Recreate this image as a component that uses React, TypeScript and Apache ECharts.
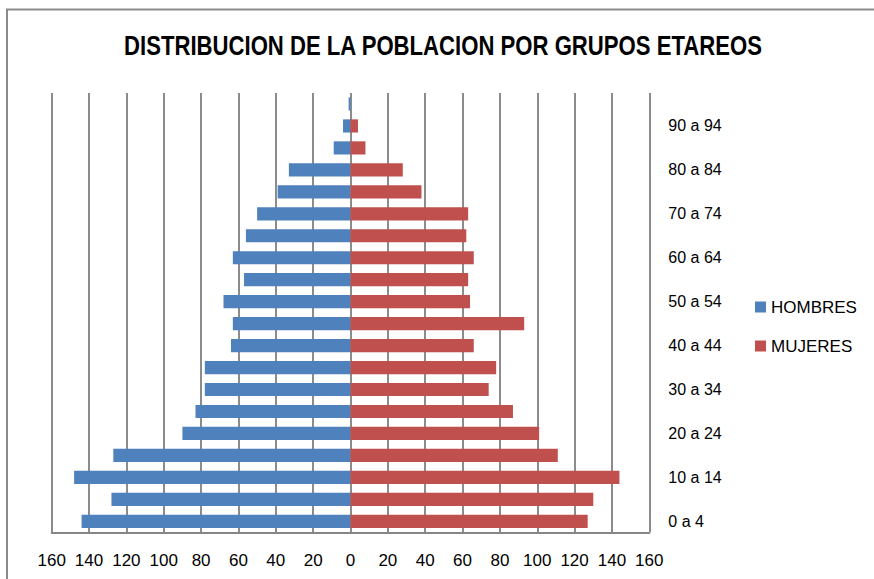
import React, { useEffect, useRef } from "react";
import * as echarts from "echarts";

const categories = [
  "0 a 4", "5 a 9", "10 a 14", "15 a 19", "20 a 24", "25 a 29", "30 a 34",
  "35 a 39", "40 a 44", "45 a 49", "50 a 54", "55 a 59", "60 a 64", "65 a 69",
  "70 a 74", "75 a 79", "80 a 84", "85 a 89", "90 a 94", "95 a 99",
];
const hombres = [144, 128, 148, 127, 90, 83, 78, 78, 64, 63, 68, 57, 63, 56, 50, 39, 33, 9, 4, 1];
const mujeres = [127, 130, 144, 111, 101, 87, 74, 78, 66, 93, 64, 63, 66, 62, 63, 38, 28, 8, 4, 0];
const titleText = "DISTRIBUCION DE LA POBLACION POR GRUPOS ETAREOS";
const seriesNames = ["HOMBRES", "MUJERES"];

export default function App() {
  const ref = useRef<HTMLDivElement>(null);
  useEffect(() => {
    if (!ref.current) return;
    const chart = echarts.init(ref.current, undefined, { renderer: "svg" });
    const font = "'Liberation Sans', Arial, sans-serif";
    chart.setOption({
      animation: false,
      backgroundColor: "#ffffff",
      grid: { left: 51.7, right: 224.7, top: 93, bottom: 46.7, containLabel: false },
      legend: {
        data: seriesNames,
        orient: "vertical",
        left: 755,
        top: 298,
        padding: 0,
        icon: "rect",
        itemWidth: 11,
        itemHeight: 11,
        itemGap: 21,
        textStyle: { fontFamily: font, fontSize: 17, color: "#000", lineHeight: 18 },
      },
      graphic: [
        {
          type: "rect",
          silent: true,
          shape: { x: 7, y: 9.5, width: 920, height: 620 },
          style: { fill: "none", stroke: "#8a8a8a", lineWidth: 2 },
        },
        {
          type: "text",
          silent: true,
          x: 443,
          y: 46,
          scaleX: 0.82,
          style: {
            text: titleText,
            fontFamily: font,
            fontWeight: "bold",
            fontSize: 27,
            fill: "#000",
            textAlign: "center",
            textVerticalAlign: "middle",
          },
        },
      ],
      xAxis: {
        type: "value",
        min: -160,
        max: 160,
        interval: 20,
        axisLine: { show: true, lineStyle: { color: "#868686", width: 2 } },
        axisTick: { show: false },
        splitLine: { show: true, lineStyle: { color: "#8c8c8c", width: 2 } },
        axisLabel: {
          margin: 20,
          fontFamily: font,
          fontSize: 17,
          color: "#000",
          formatter: (v: number) => String(Math.abs(v)),
        },
      },
      yAxis: {
        type: "category",
        position: "right",
        data: categories,
        axisLine: { show: false },
        axisTick: { show: false },
        splitLine: { show: false },
        axisLabel: {
          interval: 1,
          margin: 19,
          fontFamily: font,
          fontSize: 16,
          color: "#000",
        },
      },
      series: [
        {
          name: seriesNames[0],
          type: "bar",
          stack: "total",
          barCategoryGap: "40%",
          itemStyle: { color: "#4F81BD" },
          data: hombres.map((v) => -v),
        },
        {
          name: seriesNames[1],
          type: "bar",
          stack: "total",
          barCategoryGap: "40%",
          itemStyle: { color: "#C0504D" },
          data: mujeres,
        },
      ],
    });
    return () => chart.dispose();
  }, []);
  return (
    <div
      ref={ref}
      style={{ position: "fixed", left: 0, top: 0, width: 874, height: 579 }}
    />
  );
}
